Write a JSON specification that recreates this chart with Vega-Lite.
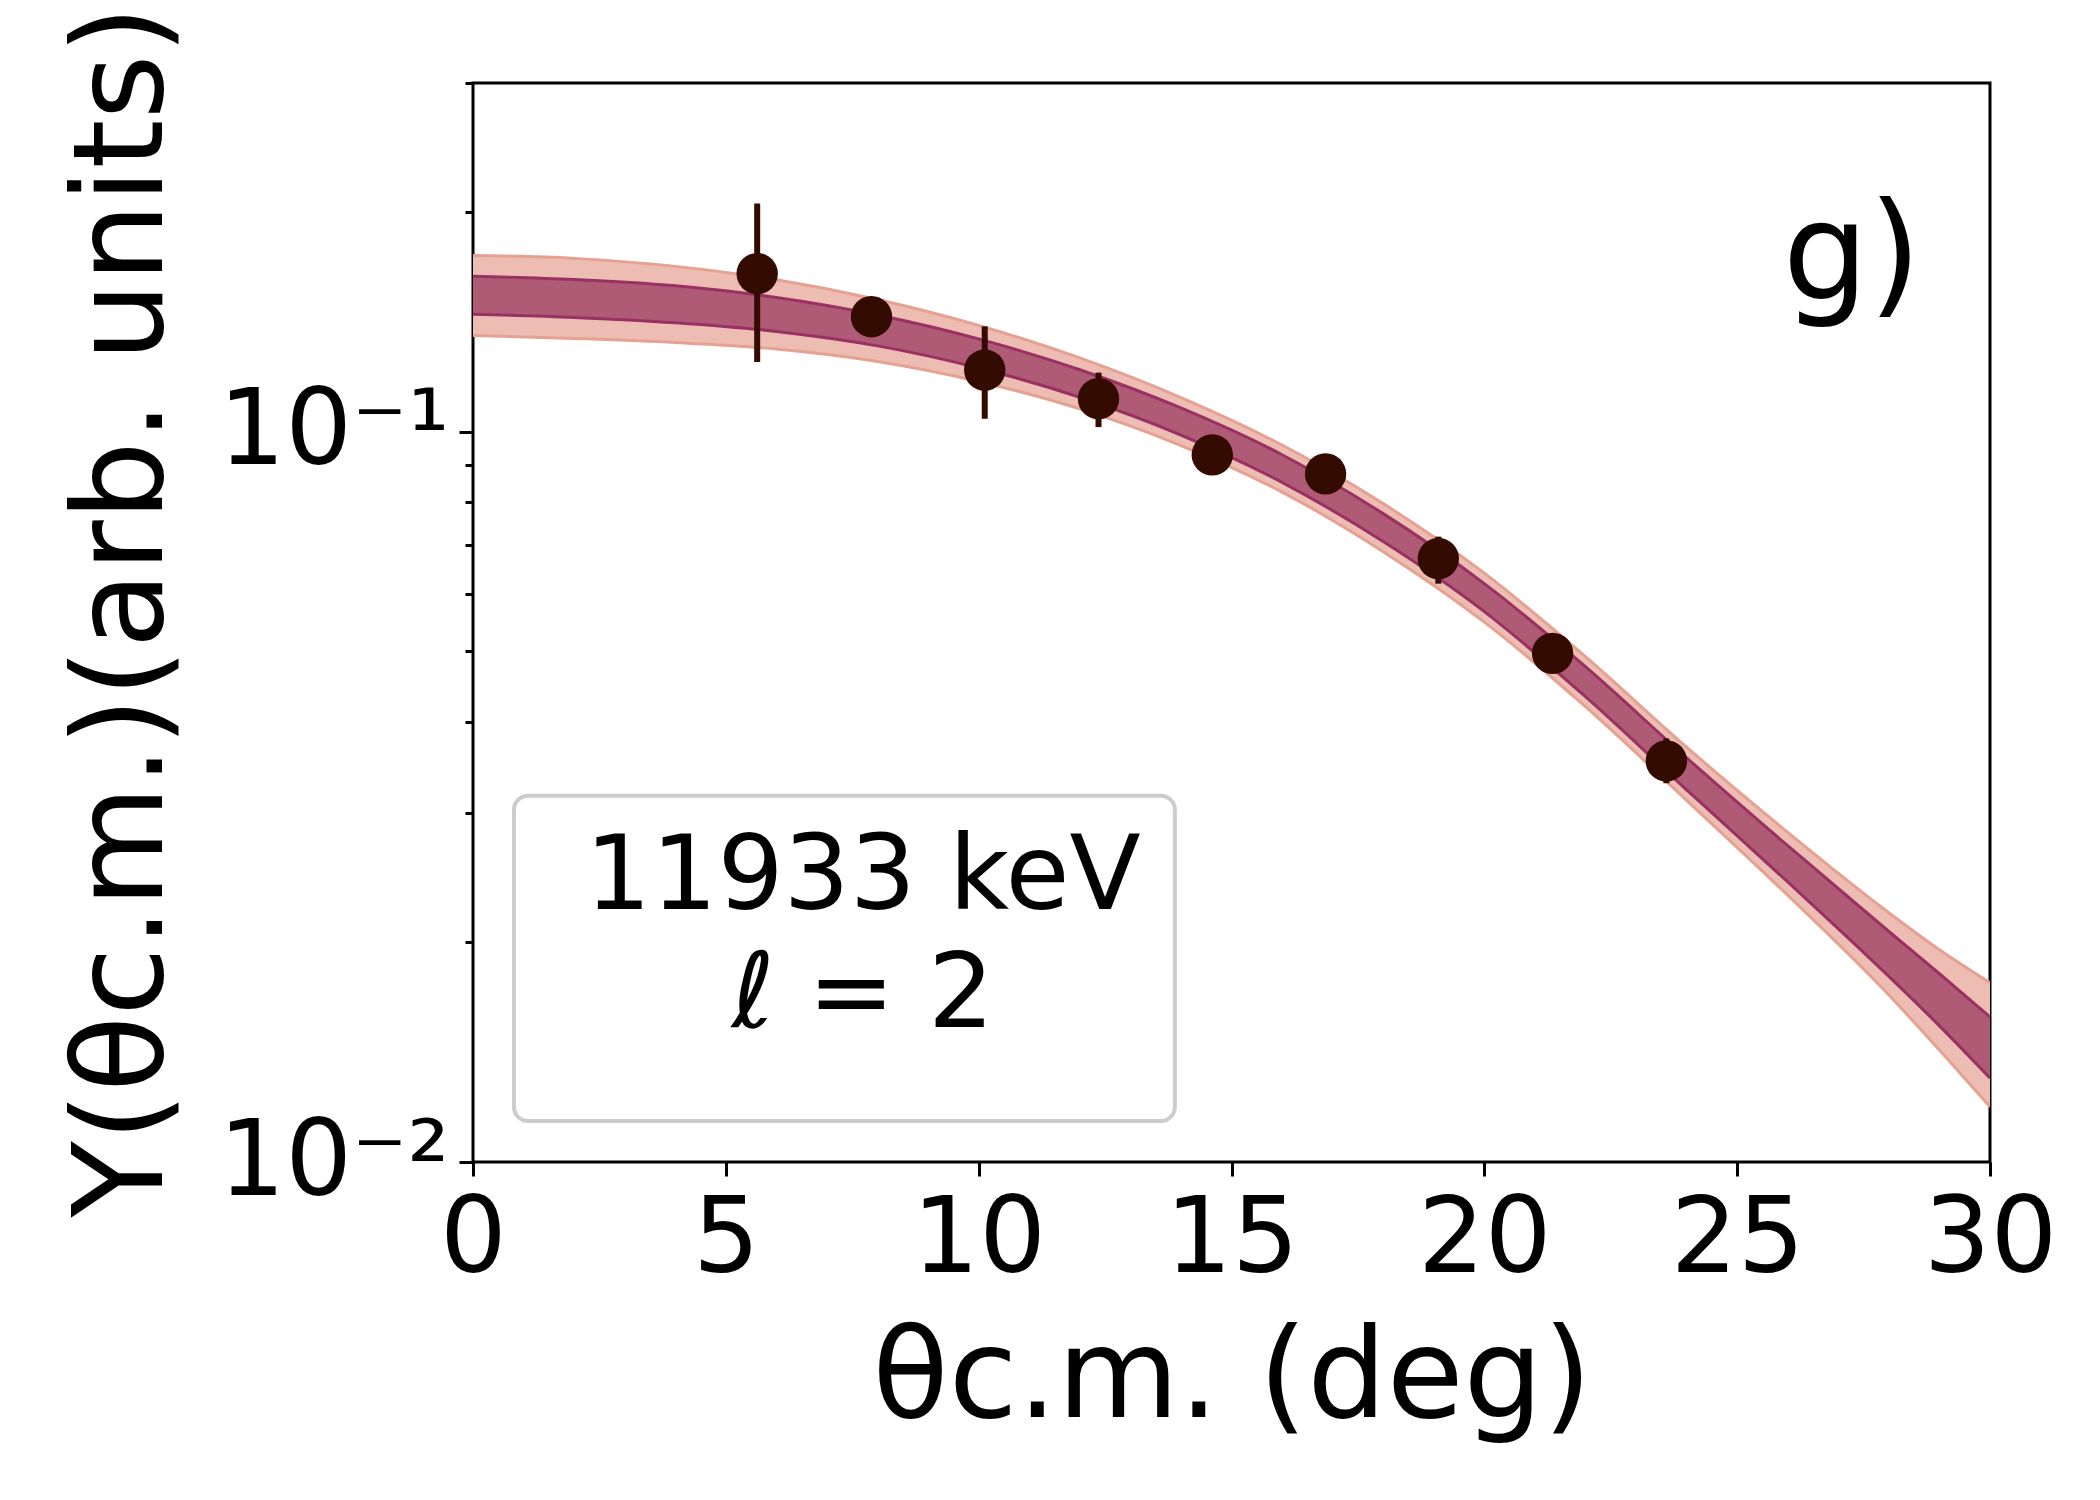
{
  "$schema": "https://vega.github.io/schema/vega-lite/v6.json",
  "width": 1517,
  "height": 1079,
  "autosize": {"type": "none"},
  "padding": {"left": 473, "top": 83, "right": 110, "bottom": 338},
  "background": "white",
  "config": {
    "font": "DejaVu Sans",
    "view": {"stroke": "black", "strokeWidth": 3},
    "axis": {
      "domain": false,
      "grid": false,
      "tickColor": "black",
      "tickWidth": 3,
      "labelColor": "black",
      "labelFont": "DejaVu Sans",
      "labelFontSize": 105,
      "labelLimit": 0,
      "titleFont": "DejaVu Sans",
      "titleFontSize": 125,
      "titleFontWeight": "normal",
      "titleColor": "black",
      "titleLimit": 0
    }
  },
  "datasets": {
    "band": [
      {"x": 0, "olo": 0.1354, "ilo": 0.1447, "ihi": 0.1631, "ohi": 0.1742},
      {"x": 2, "olo": 0.1341, "ilo": 0.1433, "ihi": 0.1615, "ohi": 0.1726},
      {"x": 4, "olo": 0.1324, "ilo": 0.1409, "ihi": 0.1583, "ohi": 0.1683},
      {"x": 6, "olo": 0.1297, "ilo": 0.1371, "ihi": 0.1526, "ohi": 0.1613},
      {"x": 8, "olo": 0.1247, "ilo": 0.131, "ihi": 0.1444, "ohi": 0.1516},
      {"x": 10, "olo": 0.1171, "ilo": 0.1222, "ihi": 0.1339, "ohi": 0.1397},
      {"x": 12, "olo": 0.1074, "ilo": 0.1114, "ihi": 0.1215, "ohi": 0.1261},
      {"x": 14, "olo": 0.09568, "ilo": 0.0989, "ihi": 0.1077, "ohi": 0.1113},
      {"x": 16, "olo": 0.08263, "ilo": 0.0852, "ihi": 0.09295, "ohi": 0.09583},
      {"x": 18, "olo": 0.06847, "ilo": 0.07069, "ihi": 0.0772, "ohi": 0.07967},
      {"x": 20, "olo": 0.05483, "ilo": 0.05668, "ihi": 0.06191, "ohi": 0.06399},
      {"x": 22, "olo": 0.042, "ilo": 0.04335, "ihi": 0.04765, "ohi": 0.04917},
      {"x": 24, "olo": 0.03127, "ilo": 0.03232, "ihi": 0.03576, "ohi": 0.03697},
      {"x": 26, "olo": 0.02318, "ilo": 0.02418, "ihi": 0.0271, "ohi": 0.02827},
      {"x": 28, "olo": 0.01693, "ilo": 0.01795, "ihi": 0.02068, "ohi": 0.02194},
      {"x": 29, "olo": 0.01423, "ilo": 0.01536, "ihi": 0.0181, "ohi": 0.01952},
      {"x": 30, "olo": 0.0119, "ilo": 0.01303, "ihi": 0.0158, "ohi": 0.01759}
    ],
    "points": [
      {"x": 5.62, "y": 0.1645, "lo": 0.1245, "hi": 0.2052},
      {"x": 7.88, "y": 0.1436, "lo": 0.14, "hi": 0.1473},
      {"x": 10.12, "y": 0.1214, "lo": 0.1041, "hi": 0.1393},
      {"x": 12.37, "y": 0.1109, "lo": 0.1014, "hi": 0.1204},
      {"x": 14.62, "y": 0.0929, "lo": 0.0905, "hi": 0.0954},
      {"x": 16.86, "y": 0.0875, "lo": 0.0852, "hi": 0.0898},
      {"x": 19.09, "y": 0.067, "lo": 0.0619, "hi": 0.0718},
      {"x": 21.35, "y": 0.0497, "lo": 0.0484, "hi": 0.051},
      {"x": 23.6, "y": 0.0354, "lo": 0.033, "hi": 0.038}
    ]
  },
  "layer": [
    {
      "data": {"name": "band"},
      "mark": {"type": "area", "color": "#edbdb3", "interpolate": "monotone", "clip": true},
      "encoding": {
        "x": {
          "field": "x", "type": "quantitative",
          "scale": {"domain": [0, 30], "nice": false},
          "axis": {
            "values": [0, 5, 10, 15, 20, 25, 30],
            "format": "d",
            "tickSize": 14,
            "labelPadding": 12,
            "labelFlush": false,
            "title": "θc.m. (deg)",
            "titleX": 758.5,
            "titleY": 254,
            "titleBaseline": "alphabetic"
          }
        },
        "y": {
          "field": "olo", "type": "quantitative",
          "scale": {"type": "log", "domain": [0.01, 0.3], "nice": false},
          "axis": {
            "values": [0.01, 0.02, 0.03, 0.04, 0.05, 0.06, 0.07, 0.08, 0.09, 0.1, 0.2, 0.3],
            "labelExpr": "datum.value == 0.1 ? '10⁻¹' : (datum.value == 0.01 ? '10⁻²' : '')",
            "tickSize": {"condition": {"test": "datum.value == 0.1 || datum.value == 0.01", "value": 14}, "value": 8},
            "labelPadding": 10,
            "labelOverlap": false,
            "labelBound": false,
            "title": "Y(θc.m.)(arb. units)",
            "titleX": -312,
            "titleY": 528,
            "titleAngle": -90,
            "titleBaseline": "alphabetic"
          }
        },
        "y2": {"field": "ohi"}
      }
    },
    {
      "data": {"name": "band"},
      "mark": {"type": "line", "color": "#e5a292", "strokeWidth": 3, "interpolate": "monotone", "clip": true},
      "encoding": {
        "x": {"field": "x", "type": "quantitative"},
        "y": {"field": "ohi", "type": "quantitative", "title": "Y(θc.m.)(arb. units)"}
      }
    },
    {
      "data": {"name": "band"},
      "mark": {"type": "line", "color": "#e5a292", "strokeWidth": 3, "interpolate": "monotone", "clip": true},
      "encoding": {
        "x": {"field": "x", "type": "quantitative"},
        "y": {"field": "olo", "type": "quantitative", "title": "Y(θc.m.)(arb. units)"}
      }
    },
    {
      "data": {"name": "band"},
      "mark": {"type": "area", "color": "#b05b75", "interpolate": "monotone", "clip": true},
      "encoding": {
        "x": {"field": "x", "type": "quantitative"},
        "y": {"field": "ilo", "type": "quantitative", "title": "Y(θc.m.)(arb. units)"},
        "y2": {"field": "ihi"}
      }
    },
    {
      "data": {"name": "band"},
      "mark": {"type": "line", "color": "#993262", "strokeWidth": 3, "interpolate": "monotone", "clip": true},
      "encoding": {
        "x": {"field": "x", "type": "quantitative"},
        "y": {"field": "ihi", "type": "quantitative", "title": "Y(θc.m.)(arb. units)"}
      }
    },
    {
      "data": {"name": "band"},
      "mark": {"type": "line", "color": "#993262", "strokeWidth": 3, "interpolate": "monotone", "clip": true},
      "encoding": {
        "x": {"field": "x", "type": "quantitative"},
        "y": {"field": "ilo", "type": "quantitative", "title": "Y(θc.m.)(arb. units)"}
      }
    },
    {
      "data": {"name": "points"},
      "mark": {"type": "rule", "color": "#330b00", "strokeWidth": 6},
      "encoding": {
        "x": {"field": "x", "type": "quantitative"},
        "y": {"field": "lo", "type": "quantitative", "title": "Y(θc.m.)(arb. units)"},
        "y2": {"field": "hi"}
      }
    },
    {
      "data": {"name": "points"},
      "mark": {"type": "point", "shape": "circle", "filled": true, "size": 1714, "color": "#330b00", "opacity": 1},
      "encoding": {
        "x": {"field": "x", "type": "quantitative"},
        "y": {"field": "y", "type": "quantitative", "title": "Y(θc.m.)(arb. units)"}
      }
    },
    {
      "data": {"values": [{}]},
      "mark": {"type": "rect", "fill": "white", "stroke": "#cccccc", "strokeWidth": 4, "cornerRadius": 14},
      "encoding": {
        "x": {"datum": 0.81, "type": "quantitative"},
        "x2": {"datum": 13.88},
        "y": {"datum": 0.03172, "type": "quantitative"},
        "y2": {"datum": 0.01138}
      }
    },
    {
      "data": {"values": [{}]},
      "mark": {"type": "text", "text": ["11933 keV", "ℓ = 2"], "fontSize": 104, "lineHeight": 118, "align": "center", "baseline": "alphabetic", "color": "black"},
      "encoding": {
        "x": {"datum": 7.71, "type": "quantitative"},
        "y": {"datum": 0.02221, "type": "quantitative"}
      }
    },
    {
      "data": {"values": [{}]},
      "mark": {"type": "text", "text": "g)", "fontSize": 135, "align": "right", "baseline": "alphabetic", "color": "black"},
      "encoding": {
        "x": {"datum": 28.64, "type": "quantitative"},
        "y": {"datum": 0.1517, "type": "quantitative"}
      }
    }
  ]
}
